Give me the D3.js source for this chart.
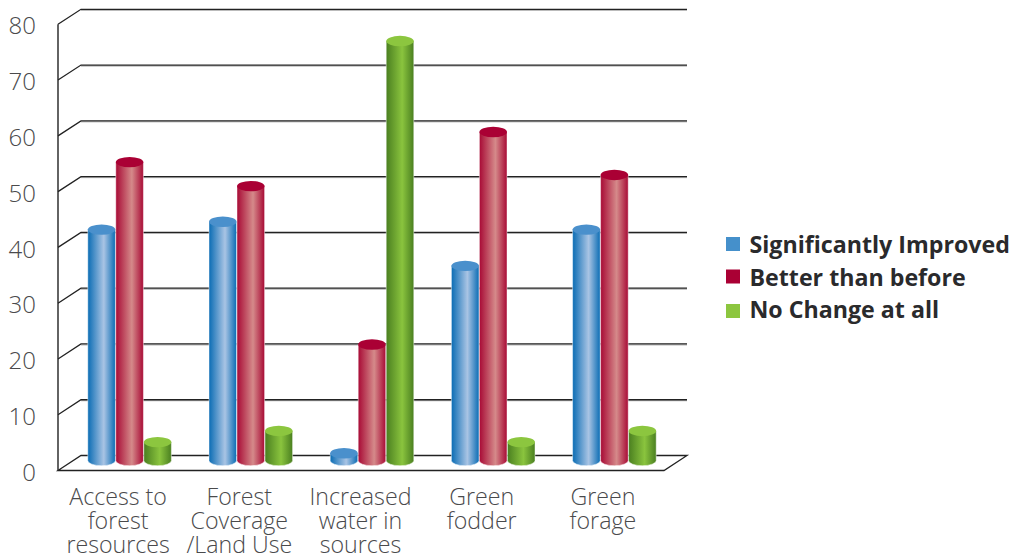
<!DOCTYPE html>
<html><head><meta charset="utf-8">
<script src="https://cdn.jsdelivr.net/npm/d3@7/dist/d3.min.js"></script>
<style>html,body{margin:0;padding:0;background:#fff}svg{display:block}
text{font-family:"Open Sans",sans-serif}</style></head><body>
<svg id="c" width="1016" height="559"></svg>
<script>
const categories=[["Access to","forest","resources"],["Forest","Coverage","/Land Use"],["Increased","water in","sources"],["Green","fodder"],["Green","forage"]];
const seriesNames=["Significantly Improved","Better than before","No Change at all"];
const improved=[41.4,42.8,1.3,34.9,41.4];
const better=[53.5,49.2,20.8,58.9,51.2];
const noChange=[3.3,5.3,75.2,3.3,5.3];
const yTicks=[0,10,20,30,40,50,60,70,80];
const svg=d3.select("#c");
const m={left:58,right:664,top:24.3,bottom:470.5};
const depth={x:23,y:-15},barShift={x:11,y:-10};
const x=d3.scaleBand().domain(d3.range(categories.length)).range([m.left,m.right]);
const y=d3.scaleLinear().domain([0,80]).range([m.bottom,m.top]);
const bw=27.6;
const defs=svg.append("defs");
const styles=[
 {id:"gb",edge:"#0a6cb4",mid:"#a9c4e4",top:"#4a90cc",leg:"#4590cb"},
 {id:"gr",edge:"#a80a35",mid:"#d58a8a",top:"#aa0034",leg:"#aa0034"},
 {id:"gg",edge:"#4a7f20",mid:"#8ac43e",top:"#8cc63f",leg:"#8cc63f"}];
styles.forEach(s=>{const g=defs.append("linearGradient").attr("id",s.id);
 g.append("stop").attr("offset","0").attr("stop-color",s.edge);
 g.append("stop").attr("offset","0.58").attr("stop-color",s.mid);
 g.append("stop").attr("offset","1").attr("stop-color",s.edge);});
const grid=svg.append("g").attr("fill","none");
yTicks.forEach(t=>{
 const py=y(t);
 if(t>0){
  grid.append("path").attr("d",`M${m.left+depth.x},${py+depth.y+1}H${m.right+depth.x}`).attr("stroke","#aaa").attr("stroke-width",1);
  grid.append("path").attr("d",`M${m.left},${py}L${m.left+depth.x},${py+depth.y}H${m.right+depth.x}`).attr("stroke","#222").attr("stroke-width",1.3);
 } else {
  grid.append("path").attr("d",`M${m.left},${py}L${m.left+depth.x},${py+depth.y}H${m.right+depth.x}L${m.right},${py}Z`).attr("stroke","#222").attr("stroke-width",1.3);
 }
});
grid.append("path").attr("d",`M${m.left},${y(0)}V${y(80)}`).attr("stroke","#222").attr("stroke-width",1.4);
const series=[improved,better,noChange];
const rx=bw/2,ry=5.2;
series.forEach((vals,si)=>{
 const s=styles[si];
 const g=svg.append("g");
 vals.forEach((v,i)=>{
  const cx=x(i)+x.bandwidth()/2+barShift.x+(si-1)*(bw+0.4);
  const y0=y(0)+barShift.y,y1=y(v)+barShift.y;
  g.append("path").attr("d",`M${cx-rx},${y1}V${y0}A${rx},${ry} 0 0 0 ${cx+rx},${y0}V${y1}Z`)
   .attr("fill",`url(#${s.id})`).attr("stroke","#fff").attr("stroke-opacity",0.6).attr("stroke-width",0.8);
  g.append("ellipse").attr("cx",cx).attr("cy",y1).attr("rx",rx).attr("ry",ry).attr("fill",s.top);
 });
});
const ya=d3.axisLeft(y).tickValues(yTicks).tickSize(0).tickPadding(0);
const yg=svg.append("g").attr("transform",`translate(36,1)`).call(ya);
yg.select(".domain").remove();
yg.selectAll("text").attr("font-size",24).attr("font-weight",300).attr("fill","#4a4a4c").attr("dy","0.36em").style("font-family",'"Open Sans"');
const lab=svg.append("g");
categories.forEach((c,i)=>{
 c.forEach((t,j)=>lab.append("text").text(t).attr("x",x(i)+x.bandwidth()/2-0.5).attr("y",505+j*24)
  .attr("text-anchor","middle").attr("font-size",23.2).attr("font-weight",300).attr("fill","#4a4a4c"));
});
const leg=svg.append("g");
const ly=d3.scalePoint().domain(seriesNames).range([245,310]);
seriesNames.forEach((n,i)=>{
 leg.append("rect").attr("x",726).attr("y",ly(n)-8+(i==2?2:0)).attr("width",14).attr("height",14).attr("fill",styles[i].leg);
 leg.append("text").text(n).attr("x",749.5).attr("y",ly(n)+8).attr("font-size",23.2).attr("font-weight",700).attr("fill","#2a2a2c");
});
</script></body></html>
